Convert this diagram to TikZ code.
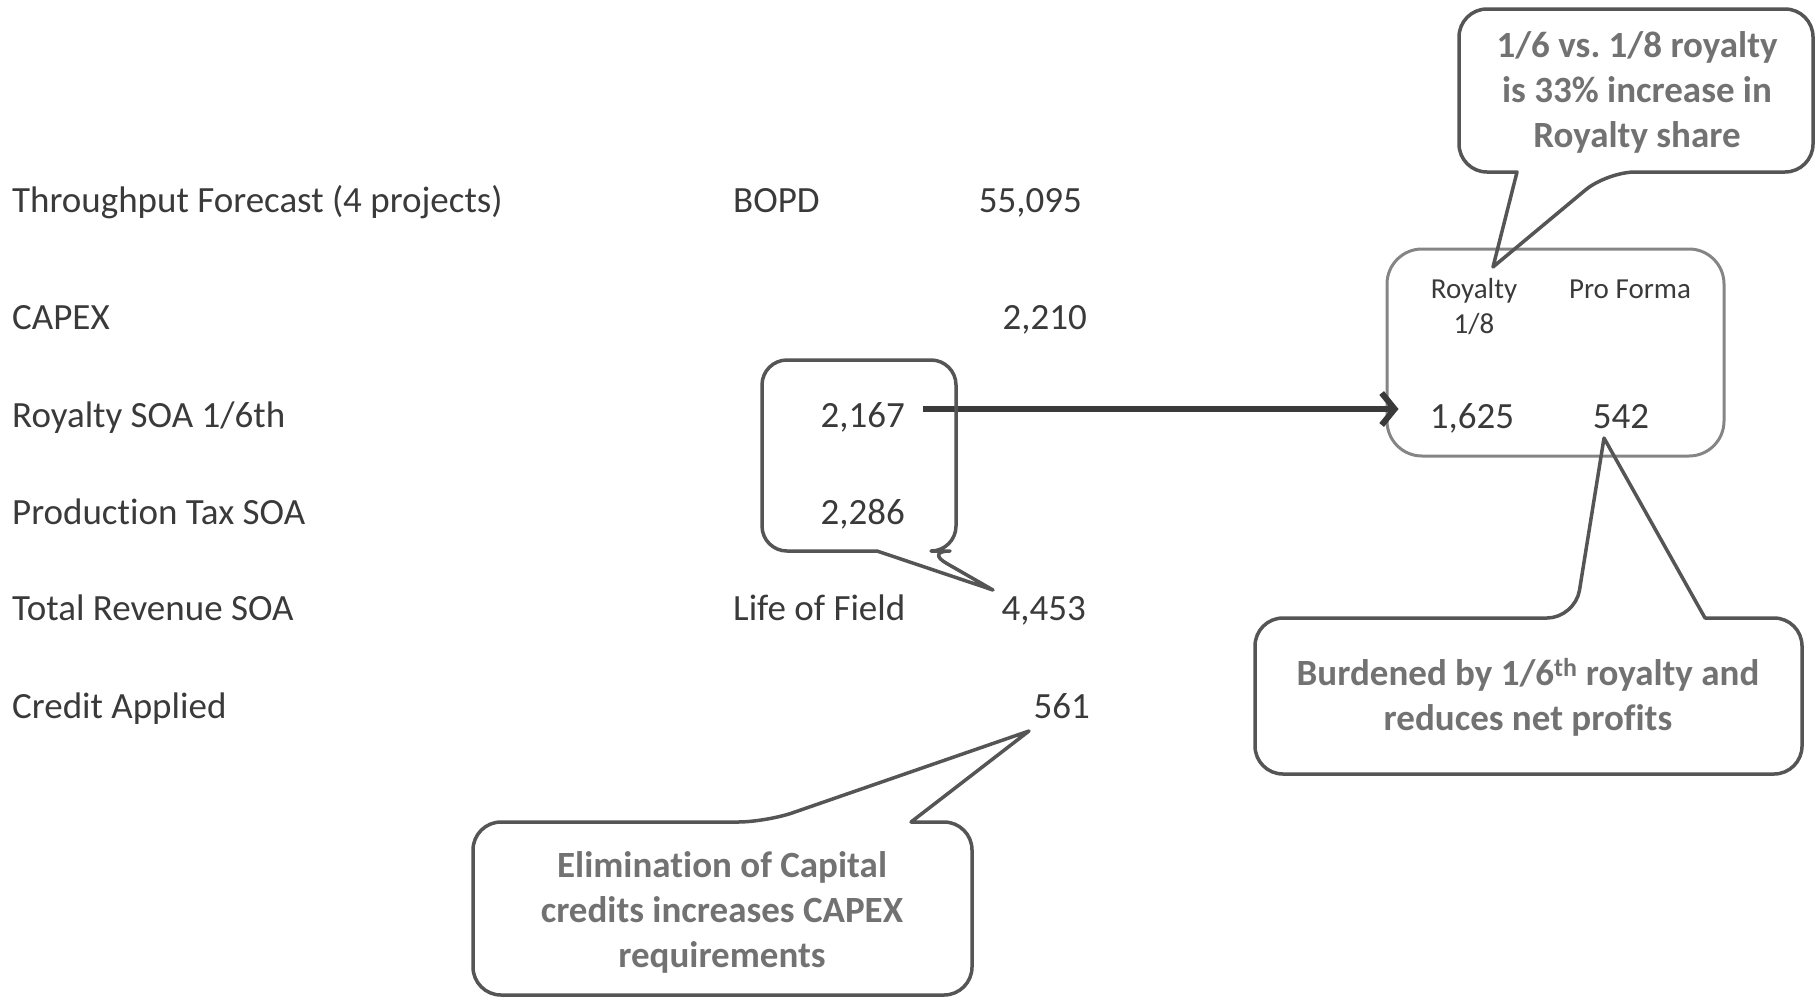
\documentclass[tikz,border=0pt]{standalone}
\usepackage{fontspec}
\setmainfont{Carlito}[RawFeature=-liga]
\usepackage{tikz}
\usetikzlibrary{arrows.meta}

\definecolor{txtgray}{HTML}{3A3A3A}
\definecolor{notegray}{HTML}{727272}
\definecolor{edgegray}{HTML}{555555}
\definecolor{boxgray}{HTML}{858585}

\tikzset{
  row/.style={anchor=base west, inner sep=0pt, text=txtgray, font=\fontsize{37}{44}\selectfont},
  num/.style={anchor=base east, inner sep=0pt, text=txtgray, font=\fontsize{37}{44}\selectfont},
  head/.style={anchor=base, inner sep=0pt, text=txtgray, font=\fontsize{29}{35}\selectfont},
  note/.style={inner sep=0pt, text=notegray, align=center, font=\bfseries\fontsize{37}{45}\selectfont},
  callout/.style={draw=edgegray, line width=3.5pt, line join=round},
  resbox/.style={draw=boxgray, line width=3pt, rounded corners=35pt, minimum width=337pt, minimum height=207pt},
  bigarrow/.style={draw=txtgray, line width=6pt, -{Straight Barb[length=13pt,width=32pt]}},
}

\begin{document}
\begin{tikzpicture}[x=1pt, y=-1pt]
        \useasboundingbox (0,0) rectangle (1819,999);

        % table
        \node[row] (l-thru)  at (12,212)   {Throughput Forecast (4 projects)};
        \node[row] (l-capex) at (12,329)   {CAPEX};
        \node[row] (l-roy)   at (12,427)   {Royalty SOA 1/6th};
        \node[row] (l-tax)   at (12,524)   {Production Tax SOA};
        \node[row] (l-rev)   at (12,620)   {Total Revenue SOA};
        \node[row] (l-cred)  at (12,718)   {Credit Applied};
        \node[row] (u-bopd)  at (733,212)  {BOPD};
        \node[row] (u-life)  at (733,620)  {Life of Field};
        \node[num] (v-thru)  at (1082,212) {55,095};
        \node[num] (v-capex) at (1087,329) {2,210};
        \node[num] (v-roy)   at (905,427)  {2,167};
        \node[num] (v-tax)   at (905,524)  {2,286};
        \node[num] (v-rev)   at (1086,620) {4,453};
        \node[num] (v-cred)  at (1090,718) {561};

        % split of royalty
        \node[resbox] (res) at (1555.5,352.5) {};
        \node[head] (h-roy)  at (1474,298) {Royalty};
        \node[head] (h-frac) at (1474,333) {1/8};
        \node[head] (h-pro)  at (1630,298) {Pro Forma};
        \node[num, anchor=base] (r-roy) at (1472,428) {1,625};
        \node[num, anchor=base] (r-pro) at (1621,428) {542};

        \coordinate (arr-s) at ([xshift=18pt,yshift=18pt]v-roy.base east);
        \draw[bigarrow, shorten >=-13pt] (arr-s) -- (arr-s -| res.west);

        % callouts
        \draw[callout] (860,360) [rounded corners=25pt] -- (956,360) -- (956,551) -- (925,551)
              [sharp corners] -- (993,590) -- (877,551) [rounded corners=25pt] -- (762,551) -- (762,360) -- cycle; % 2,167 / 2,286

        \draw[callout] (1636,9) [rounded corners=28pt] -- (1813,9) -- (1813,172) -- (1607,172)
              [sharp corners] -- (1493,267) -- (1517,172) [rounded corners=28pt] -- (1459,172) -- (1459,9) -- cycle; % 1/6 vs 1/8
        \node[note] (n-share) at (1637,92) {1/6 vs.\ 1/8 royalty\\is 33\% increase in\\Royalty share};

        \draw[callout] (1528,774) [rounded corners=28pt] -- (1255,774) -- (1255,618) -- (1575,618)
              [sharp corners] -- (1604,438) -- (1705,618) [rounded corners=28pt] -- (1802,618) -- (1802,774) -- cycle; % burdened
        \node[note] (n-burden) at (1528,697) {Burdened by 1/6\textsuperscript{th} royalty and\\reduces net profits};

        \draw[callout] (722,995) [rounded corners=28pt] -- (473,995) -- (473,822) -- (766,822)
              [sharp corners] -- (1029,731) -- (911,822) [rounded corners=28pt] -- (972,822) -- (972,995) -- cycle; % credits
        \node[note] (n-credit) at (722,912) {Elimination of Capital\\credits increases CAPEX\\requirements};
\end{tikzpicture}
\end{document}
